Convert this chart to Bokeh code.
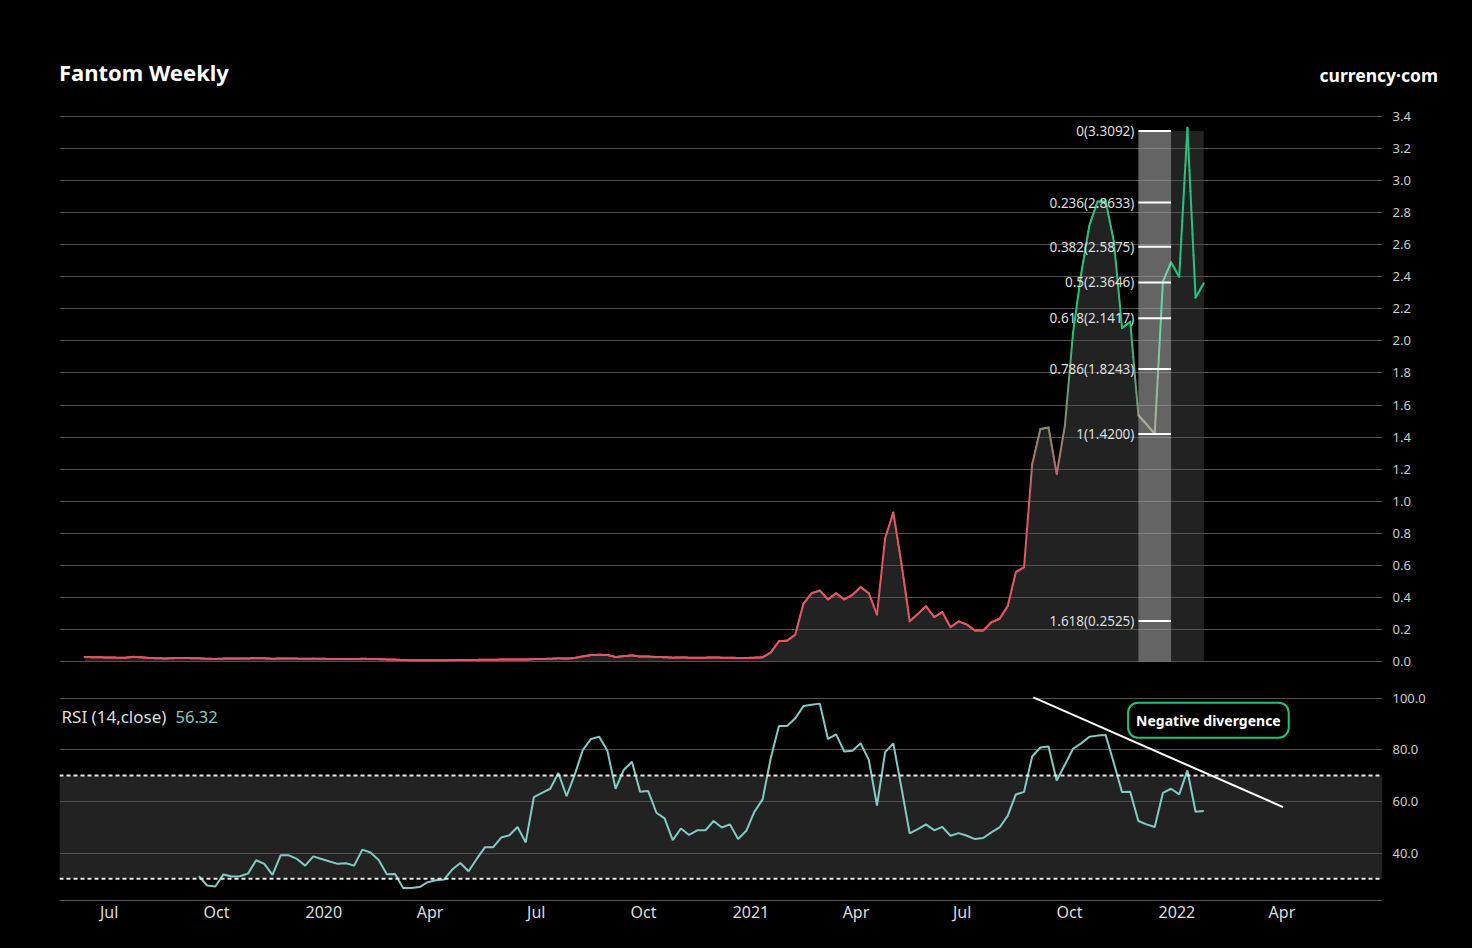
import numpy as np
import pandas as pd
from bokeh.plotting import figure
from bokeh.layouts import column
from bokeh.models import (Range1d, FixedTicker, NumeralTickFormatter, CustomJSTickFormatter,
                          Label, Span, BoxAnnotation, Div)
from bokeh.core.properties import value
from bokeh.embed import file_html
from bokeh.resources import INLINE

# ---------------- data ----------------
first_week = "2019-06-10"
price = [0.028, 0.027, 0.026, 0.025, 0.024, 0.024, 0.029, 0.026, 0.022, 0.020,
         0.019, 0.021, 0.022, 0.021, 0.020, 0.017, 0.016, 0.018, 0.018, 0.018,
         0.019, 0.021, 0.020, 0.017, 0.019, 0.019, 0.018, 0.017, 0.018, 0.017,
         0.016, 0.015, 0.015, 0.015, 0.017, 0.016, 0.015, 0.013, 0.012, 0.009,
         0.008, 0.008, 0.008, 0.008, 0.008, 0.009, 0.010, 0.009, 0.010, 0.011,
         0.011, 0.012, 0.012, 0.013, 0.012, 0.015, 0.016, 0.017, 0.020, 0.018,
         0.022, 0.032, 0.040, 0.042, 0.040, 0.028, 0.033, 0.038, 0.031, 0.031,
         0.028, 0.027, 0.024, 0.025, 0.024, 0.024, 0.024, 0.025, 0.024, 0.024,
         0.022, 0.022, 0.024, 0.026, 0.056, 0.127, 0.130, 0.168, 0.360, 0.426,
         0.443, 0.387, 0.426, 0.387, 0.416, 0.464, 0.426, 0.293, 0.770, 0.930,
         0.610, 0.251, 0.297, 0.345, 0.277, 0.308, 0.214, 0.250, 0.231, 0.193,
         0.193, 0.245, 0.266, 0.345, 0.557, 0.588, 1.230, 1.450, 1.460, 1.170,
         1.470, 2.050, 2.420, 2.720, 2.870, 2.870, 2.620, 2.080, 2.120, 1.535,
         1.480, 1.420, 2.370, 2.490, 2.400, 3.330, 2.270, 2.360]

rsi_start_index = 14
rsi = [31.0, 27.4, 27.0, 31.7, 30.9, 31.0, 32.0, 37.2, 35.8, 31.5,
       39.1, 39.1, 37.7, 35.1, 38.7, 37.7, 36.7, 35.8, 36.0, 35.1,
       41.3, 40.2, 37.3, 31.8, 31.9, 26.4, 26.4, 26.8, 28.7, 29.4,
       29.7, 33.6, 36.1, 32.9, 37.7, 42.2, 42.2, 46.0, 46.9, 50.1,
       44.1, 61.7, 63.3, 64.9, 71.0, 62.0, 70.4, 80.0, 84.2, 85.1,
       79.6, 64.9, 72.2, 75.4, 63.7, 64.0, 55.6, 53.4, 45.0, 49.5,
       47.0, 48.8, 48.8, 52.4, 49.9, 51.1, 45.4, 48.6, 56.0, 60.8,
       76.8, 89.2, 89.2, 92.2, 97.0, 97.5, 97.9, 84.2, 86.0, 79.3,
       79.6, 82.5, 76.1, 58.4, 79.1, 82.5, 65.2, 47.6, 49.3, 51.1,
       48.8, 50.1, 46.7, 47.7, 46.7, 45.4, 45.8, 48.0, 49.9, 54.4,
       62.7, 63.7, 77.4, 80.9, 81.3, 68.1, 74.2, 80.4, 82.5, 85.1,
       85.5, 85.7, 74.8, 63.6, 63.7, 52.4, 51.1, 50.1, 63.3, 64.9,
       62.7, 72.0, 56.0, 56.32]

fib_levels = ["0", "0.236", "0.382", "0.5", "0.618", "0.786", "1", "1.618"]
fib_prices = [3.3092, 2.8633, 2.5875, 2.3646, 2.1417, 1.8243, 1.4200, 0.2525]
fib_start_index = 129
fib_highlight_end_index = 133
fib_end_index = 137

tick_dates = ["2019-07-01", "2019-10-01", "2020-01-01", "2020-04-01", "2020-07-01",
              "2020-10-01", "2021-01-01", "2021-04-01", "2021-07-01", "2021-10-01",
              "2022-01-01", "2022-04-01"]
tick_labels = ["Jul", "Oct", "2020", "Apr", "Jul", "Oct", "2021", "Apr", "Jul", "Oct",
               "2022", "Apr"]
price_ticks = [0.0, 0.2, 0.4, 0.6, 0.8, 1.0, 1.2, 1.4, 1.6, 1.8, 2.0, 2.2, 2.4,
               2.6, 2.8, 3.0, 3.2, 3.4]
rsi_ticks = [40, 60, 80, 100]
rsi_upper = 70
rsi_lower = 30

div_dates = ["2021-08-31", "2022-04-02"]
div_values = [100.3, 57.8]
div_label_date = "2022-01-28"
div_label_value = 91.5
div_label_text = "Negative divergence"

title_text = "Fantom Weekly"
logo_text = "currency\u00b7com"
rsi_title = "RSI (14,close)"

# ---------------- helpers ----------------
FONT = "Noto Sans"
W = 1472
dates = pd.date_range(first_week, periods=len(price), freq="7D")
def ms(t):
    return pd.Timestamp(t).value / 1e6

x_start = pd.Timestamp("2019-05-19 12:00")
x_end = x_start + pd.Timedelta(days=1323 / 1.167)
xr = Range1d(start=x_start, end=x_end)

def style_right_axis(ax):
    ax.axis_line_color = None
    ax.major_tick_line_color = None
    ax.minor_tick_line_color = None
    ax.major_tick_out = 0
    ax.major_tick_in = 0
    ax.minor_tick_out = 0
    ax.major_label_text_color = "#cccccc"
    ax.major_label_text_font = FONT
    ax.major_label_text_font_size = "13px"
    ax.major_label_standoff = 10
    ax.formatter = NumeralTickFormatter(format="0.0")

common = dict(output_backend="svg", toolbar_location=None,
              background_fill_color="#000000", border_fill_color="#000000",
              outline_line_color=None)

# ---------------- header (title + logo) ----------------
header_html = (
    '<div style="position:relative;width:%dpx;height:100px;background:#000;">'
    '<span style="position:absolute;left:59px;top:59px;font-family:\'Noto Sans\';'
    'font-weight:bold;font-size:22px;line-height:26px;color:#ffffff;white-space:nowrap;">%s</span>'
    '<span style="position:absolute;right:34px;top:63px;font-family:\'Noto Sans\';'
    'font-weight:bold;font-size:17.5px;line-height:24px;color:#ffffff;white-space:nowrap;">%s</span>'
    '</div>' % (W, title_text, logo_text))
p0 = Div(text=header_html, width=W, height=100,
         styles={"margin": "0", "padding": "0", "background-color": "#000000"})

# ---------------- price panel ----------------
p1 = figure(width=W, height=578, x_axis_type="datetime", x_axis_location=None,
            y_axis_location="right", x_range=xr, y_range=Range1d(-0.0499, 3.4186),
            min_border_left=59, min_border_right=90, min_border_top=13, min_border_bottom=9,
            **common)
p1.xgrid.visible = False
p1.ygrid.ticker = FixedTicker(ticks=price_ticks)
p1.ygrid.grid_line_color = "#505050"
p1.yaxis.ticker = FixedTicker(ticks=price_ticks)
style_right_axis(p1.yaxis[0])

area = p1.varea(x=dates, y1=0, y2=price, fill_color="#222222")
area.level = "image"
col = p1.quad(left=[dates[fib_start_index]], right=[dates[fib_end_index]], bottom=[0],
              top=[fib_prices[0]], fill_color="#222222", line_color=None)
col.level = "image"

# price line coloured by value (red -> green)
red = np.array([225, 87, 99])
green = np.array([38, 194, 129])
xs = np.array([ms(d) for d in dates])
ys = np.array(price)
nsub = 8
x0s, x1s, y0s, y1s, cols = [], [], [], [], []
for k in range(len(xs) - 1):
    for s in range(nsub):
        a, b = s / nsub, (s + 1) / nsub
        xa_ = xs[k] + (xs[k + 1] - xs[k]) * a
        xb_ = xs[k] + (xs[k + 1] - xs[k]) * b
        ya_ = ys[k] + (ys[k + 1] - ys[k]) * a
        yb_ = ys[k] + (ys[k + 1] - ys[k]) * b
        t = np.clip(((ya_ + yb_) / 2 - 0.9) / (2.1 - 0.9), 0, 1)
        c = (red * (1 - t) + green * t).astype(int)
        x0s.append(xa_); x1s.append(xb_); y0s.append(ya_); y1s.append(yb_)
        cols.append("#%02x%02x%02x" % tuple(c))
p1.segment(x0=x0s, y0=y0s, x1=x1s, y1=y1s, line_color=cols, line_width=2, line_cap="round")

p1.quad(left=[dates[fib_start_index]], right=[dates[fib_highlight_end_index]], bottom=[0],
        top=[fib_prices[0]], fill_color="#ffffff", fill_alpha=0.3, line_color=None)
p1.segment(x0=[dates[fib_start_index]] * len(fib_prices), y0=fib_prices,
           x1=[dates[fib_highlight_end_index]] * len(fib_prices), y1=fib_prices,
           line_color="#ffffff", line_width=2)
fib_text = ["%s(%.4f)" % (l, v) for l, v in zip(fib_levels, fib_prices)]
p1.text(x=[dates[fib_start_index]] * len(fib_prices), y=fib_prices, text=fib_text,
        text_align="right", text_baseline="middle", x_offset=-4,
        text_font=value(FONT), text_font_size="13.5px", text_color="#dddddd")

# ---------------- RSI panel ----------------
p2 = figure(width=W, height=270, x_axis_type="datetime", y_axis_location="right",
            x_range=xr, y_range=Range1d(21.59, 101.05),
            min_border_left=59, min_border_right=90, min_border_top=17, min_border_bottom=48,
            **common)
p2.xgrid.visible = False
p2.ygrid.ticker = FixedTicker(ticks=rsi_ticks)
p2.ygrid.grid_line_color = "#505050"
p2.yaxis.ticker = FixedTicker(ticks=rsi_ticks)
style_right_axis(p2.yaxis[0])

tick_ms = [ms(d) for d in tick_dates]
xax = p2.xaxis[0]
xax.ticker = FixedTicker(ticks=tick_ms)
xax.formatter = CustomJSTickFormatter(args=dict(tick_vals=tick_ms, tick_names=tick_labels), code="""
let best = 0, bd = Infinity;
for (let k = 0; k < tick_vals.length; k++) {
  const d = Math.abs(tick_vals[k] - tick);
  if (d < bd) { bd = d; best = k; }
}
return tick_names[best];
""")
xax.axis_line_color = "#555555"
xax.major_tick_line_color = None
xax.minor_tick_line_color = None
xax.major_tick_out = 0
xax.major_tick_in = 0
xax.minor_tick_out = 0
xax.major_label_standoff = 0
xax.major_label_text_color = "#dddddd"
xax.major_label_text_font = FONT
xax.major_label_text_font_size = "16px"

band = BoxAnnotation(bottom=rsi_lower, top=rsi_upper, fill_color="#222222", fill_alpha=1.0,
                     line_color=None, level="image")
p2.add_layout(band)
for lv in (rsi_upper, rsi_lower):
    p2.add_layout(Span(location=lv, dimension="width", line_color="#e8e8e8",
                       line_width=2, line_dash="4 3"))

p2.line(x=dates[rsi_start_index:], y=rsi, line_color="#80cbc4", line_width=2)
p2.line(x=pd.to_datetime(div_dates), y=div_values, line_color="#ffffff", line_width=2)

p2.add_layout(Label(x=ms(div_label_date), y=div_label_value, text=div_label_text,
                    text_font=FONT, text_font_size="14px", text_font_style="bold",
                    text_color="#ffffff", text_align="center", text_baseline="middle",
                    background_fill_color="#000000", border_line_color="#22c27a",
                    border_line_width=2, padding=8, border_radius=10))
p2.add_layout(Label(x=ms(x_start), y=92.9, x_offset=2, text=rsi_title, text_font=FONT,
                    text_font_size="17px", text_color="#dddddd", text_align="left",
                    text_baseline="middle"))
p2.add_layout(Label(x=ms(x_start), y=92.9, x_offset=116, text="%.2f" % rsi[-1],
                    text_font=FONT, text_font_size="16.5px", text_color="#80cbc4",
                    text_align="left", text_baseline="middle"))

layout = column(p0, p1, p2, spacing=0, styles={"background-color": "#000000"})
html = file_html(layout, INLINE, title="Fantom Weekly")
html = html.replace("<body>", '<body style="background-color:#000000;">', 1)
open("out.html", "w").write(html)
